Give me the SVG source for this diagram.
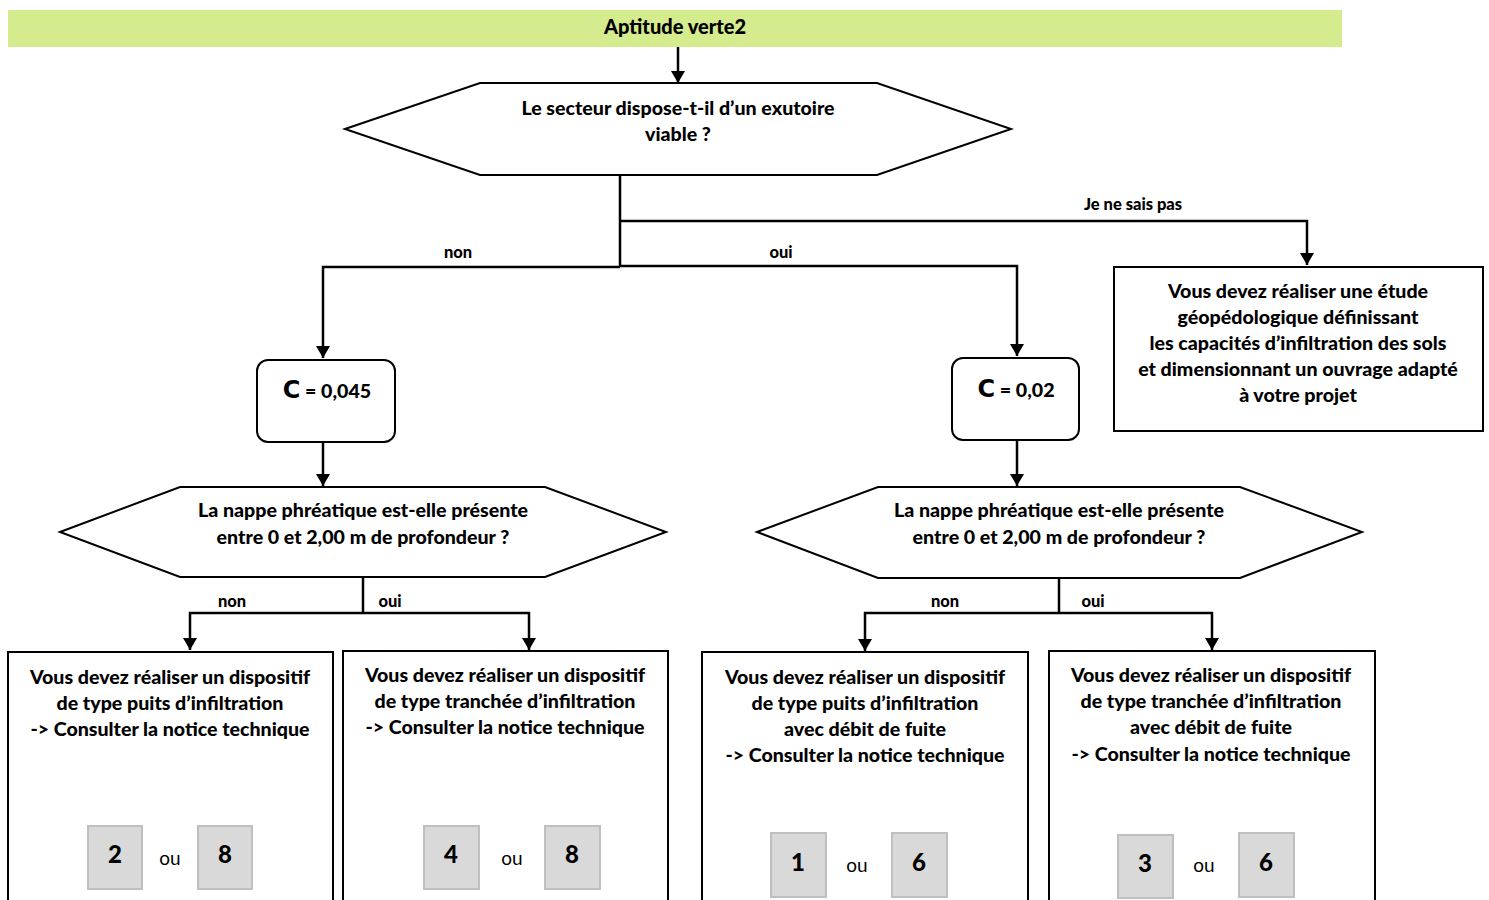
<svg xmlns="http://www.w3.org/2000/svg" width="1489" height="900" viewBox="0 0 1489 900">
<style>
text{font-family:Lato,"Liberation Sans",sans-serif;font-weight:900;fill:#000;text-anchor:middle}
.t{font-size:19.6px}
.h{font-size:20px}
.lbl{font-size:16.5px}
.num{font-size:24px}
.ou{font-size:19px;font-weight:normal}
.box{fill:#fff;stroke:#000;stroke-width:2}
.gb{fill:#d9d9d9;stroke:#bfbfbf;stroke-width:2}
.cg{font-family:"DejaVu Sans",sans-serif;font-weight:900;font-size:24px}
.ln{fill:none;stroke:#000;stroke-width:2.5}
</style>
<defs>
<marker id="ah" viewBox="0 0 12 14" refX="12" refY="7" markerWidth="12" markerHeight="14" markerUnits="userSpaceOnUse" orient="auto">
<path d="M0,0 L12,7 L0,14 Z" fill="#000"/>
</marker>
</defs>
<rect width="1489" height="900" fill="#fff"/>

<g id="header">
<rect x="8" y="10" width="1334" height="37" fill="#d4eb8e"/>
<text class="h" x="675" y="34">Aptitude verte2</text>
</g>

<g id="q1">
<polygon class="box" points="345,129 480,83 877,83 1011,129 877,175 480,175"/>
<text class="t" x="678" y="115">Le secteur dispose-t-il d’un exutoire</text>
<text class="t" x="678" y="141">viable ?</text>
</g>

<g id="etude">
<rect class="box" x="1114" y="267" width="369" height="164"/>
<text class="t" x="1298" y="298">Vous devez réaliser une étude</text>
<text class="t" x="1298" y="324">géopédologique définissant</text>
<text class="t" x="1298" y="350">les capacités d’infiltration des sols</text>
<text class="t" x="1298" y="376">et dimensionnant un ouvrage adapté</text>
<text class="t" x="1298" y="402">à votre projet</text>
</g>

<g id="c1">
<rect class="box" x="257" y="360" width="138" height="82" rx="11"/>
<text class="t" x="327" y="398"><tspan class="cg">C</tspan> = 0,045</text>
</g>

<g id="c2">
<rect class="box" x="952" y="358" width="127" height="82" rx="11"/>
<text class="t" x="1016" y="397"><tspan class="cg">C</tspan> = 0,02</text>
</g>

<g id="q2">
<polygon class="box" points="60,532 180,487 545,487 666,532 545,577 180,577"/>
<text class="t" x="363" y="517">La nappe phréatique est-elle présente</text>
<text class="t" x="363" y="544">entre 0 et 2,00 m de profondeur ?</text>
</g>

<g id="q3">
<polygon class="box" points="757,532 878,487 1240,487 1362,532 1240,578 878,578"/>
<text class="t" x="1059" y="517">La nappe phréatique est-elle présente</text>
<text class="t" x="1059" y="544">entre 0 et 2,00 m de profondeur ?</text>
</g>

<g id="r1">
<rect class="box" x="8" y="652" width="325" height="260"/>
<text class="t" x="170" y="684">Vous devez réaliser un dispositif</text>
<text class="t" x="170" y="710">de type puits d’infiltration</text>
<text class="t" x="170" y="736">-&gt; Consulter la notice technique</text>
<rect class="gb" x="88" y="826" width="54" height="63"/>
<text class="num" x="115" y="863">2</text>
<text class="ou" x="170" y="865">ou</text>
<rect class="gb" x="198" y="826" width="54" height="63"/>
<text class="num" x="225" y="863">8</text>
</g>

<g id="r2">
<rect class="box" x="343" y="651" width="325" height="260"/>
<text class="t" x="505" y="682">Vous devez réaliser un dispositif</text>
<text class="t" x="505" y="708">de type tranchée d’infiltration</text>
<text class="t" x="505" y="734">-&gt; Consulter la notice technique</text>
<rect class="gb" x="424" y="826" width="55" height="63"/>
<text class="num" x="451" y="863">4</text>
<text class="ou" x="512" y="865">ou</text>
<rect class="gb" x="545" y="826" width="55" height="63"/>
<text class="num" x="572" y="863">8</text>
</g>

<g id="r3">
<rect class="box" x="702" y="652" width="326" height="260"/>
<text class="t" x="865" y="684">Vous devez réaliser un dispositif</text>
<text class="t" x="865" y="710">de type puits d’infiltration</text>
<text class="t" x="865" y="736">avec débit de fuite</text>
<text class="t" x="865" y="762">-&gt; Consulter la notice technique</text>
<rect class="gb" x="771" y="833" width="55" height="64"/>
<text class="num" x="798" y="871">1</text>
<text class="ou" x="857" y="872">ou</text>
<rect class="gb" x="892" y="833" width="55" height="64"/>
<text class="num" x="919" y="871">6</text>
</g>

<g id="r4">
<rect class="box" x="1049" y="651" width="326" height="260"/>
<text class="t" x="1211" y="682">Vous devez réaliser un dispositif</text>
<text class="t" x="1211" y="708">de type tranchée d’infiltration</text>
<text class="t" x="1211" y="734">avec débit de fuite</text>
<text class="t" x="1211" y="761">-&gt; Consulter la notice technique</text>
<rect class="gb" x="1118" y="835" width="55" height="63"/>
<text class="num" x="1145" y="872">3</text>
<text class="ou" x="1204" y="872">ou</text>
<rect class="gb" x="1239" y="833" width="55" height="64"/>
<text class="num" x="1266" y="871">6</text>
</g>

<g id="connectors">
<path class="ln" d="M678,47 V83" marker-end="url(#ah)"/>
<path class="ln" d="M620,175 V267"/>
<path class="ln" d="M620,221 H1307 V265" marker-end="url(#ah)"/>
<path class="ln" d="M620,267 H323 V358" marker-end="url(#ah)"/>
<path class="ln" d="M620,266 H1017 V356" marker-end="url(#ah)"/>
<path class="ln" d="M323,442 V486" marker-end="url(#ah)"/>
<path class="ln" d="M1017,440 V486" marker-end="url(#ah)"/>
<path class="ln" d="M363,577 V613"/>
<path class="ln" d="M363,613 H190 V650" marker-end="url(#ah)"/>
<path class="ln" d="M363,613 H529 V650" marker-end="url(#ah)"/>
<path class="ln" d="M1059,578 V613"/>
<path class="ln" d="M1059,613 H865 V651" marker-end="url(#ah)"/>
<path class="ln" d="M1059,613 H1212 V650" marker-end="url(#ah)"/>
<text class="lbl" x="1133" y="210">Je ne sais pas</text>
<text class="lbl" x="458" y="258">non</text>
<text class="lbl" x="781" y="258">oui</text>
<text class="lbl" x="232" y="607">non</text>
<text class="lbl" x="390" y="607">oui</text>
<text class="lbl" x="945" y="607">non</text>
<text class="lbl" x="1093" y="607">oui</text>
</g>
</svg>
